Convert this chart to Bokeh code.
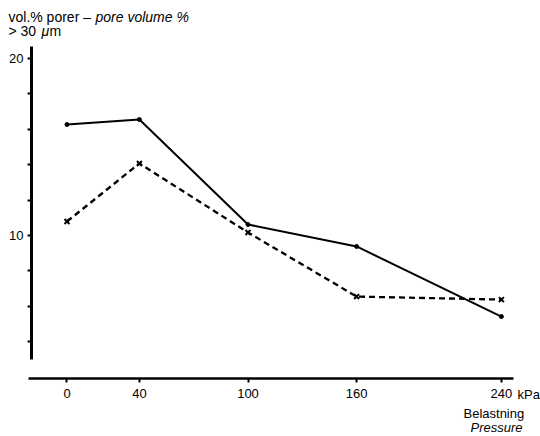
from bokeh.plotting import figure
from bokeh.models import FixedTicker, Label, Range1d, LinearAxis
from bokeh.embed import file_html
from bokeh.resources import INLINE

pressure = [0, 40, 100, 160, 240]
solid_vals = [16.27, 16.55, 10.62, 9.38, 5.42]
dashed_vals = [10.79, 14.07, 10.17, 6.55, 6.38]
x_ticks = [0, 40, 100, 160, 240]
y_major = [10, 20]
y_minor = [4, 6, 8, 12, 14, 16, 18]

FONT = "Liberation Sans"
W, H = 540, 436
BASE_FIX = 5  # baseline correction in px

p = figure(width=W, height=H, output_backend="svg", toolbar_location=None,
           x_range=Range1d(-36.74, 261.6), y_range=Range1d(-1.356, 23.277),
           min_border=0, x_axis_type=None, y_axis_type=None)
p.outline_line_color = None
p.background_fill_color = None
p.border_fill_color = "white"

ya = LinearAxis(fixed_location=-19.61)
ya.ticker = FixedTicker(ticks=y_major, minor_ticks=y_minor)
ya.bounds = (2.99, 20.68)
ya.axis_line_width = 3
ya.major_tick_in = 0
ya.major_tick_out = 4
ya.minor_tick_in = 0
ya.minor_tick_out = 4
ya.major_tick_line_width = 2
ya.minor_tick_line_width = 2
ya.major_label_standoff = 4
ya.major_label_text_font = FONT
ya.major_label_text_font_size = "13px"
ya.major_label_text_color = "black"
p.add_layout(ya, "left")

xa = LinearAxis(fixed_location=1.921)
xa.ticker = FixedTicker(ticks=x_ticks, minor_ticks=[])
xa.bounds = (-21.27, 246.7)
xa.axis_line_width = 2.5
xa.major_tick_in = 0
xa.major_tick_out = 4
xa.major_tick_line_width = 2
xa.major_label_standoff = 7
xa.major_label_text_font = FONT
xa.major_label_text_font_size = "13px"
xa.major_label_text_color = "black"
p.add_layout(xa, "below")

p.line(pressure, solid_vals, line_color="black", line_width=2)
p.scatter(pressure, solid_vals, marker="circle", size=4, color="black")
p.line(pressure, dashed_vals, line_color="black", line_width=2.3, line_dash="6 4")
p.scatter(pressure, dashed_vals, marker="x", size=7, line_color="black", line_width=2)

def lab(x, y, t, style="normal", size="14px"):
    # x, y: pixels (baseline) from the top-left of the canvas
    p.add_layout(Label(x=x, y=H - y + BASE_FIX, x_units="screen", y_units="screen", text=t,
                       text_font=FONT, text_font_size=size,
                       text_font_style=style, text_color="black", text_baseline="alphabetic"))

lab(8, 21, "vol.% porer \u2013 ")
lab(95, 21, "pore volume %", "italic")
lab(8, 35, "> 30 ")
lab(41, 35, "\u03bc", "italic")
lab(49, 35, "m")
lab(517, 399, "kPa", size="13px")
lab(463, 418, "Belastning", size="13px")
lab(470, 432, "Pressure", "italic", size="13px")

open("out.html", "w").write(file_html(p, INLINE))
